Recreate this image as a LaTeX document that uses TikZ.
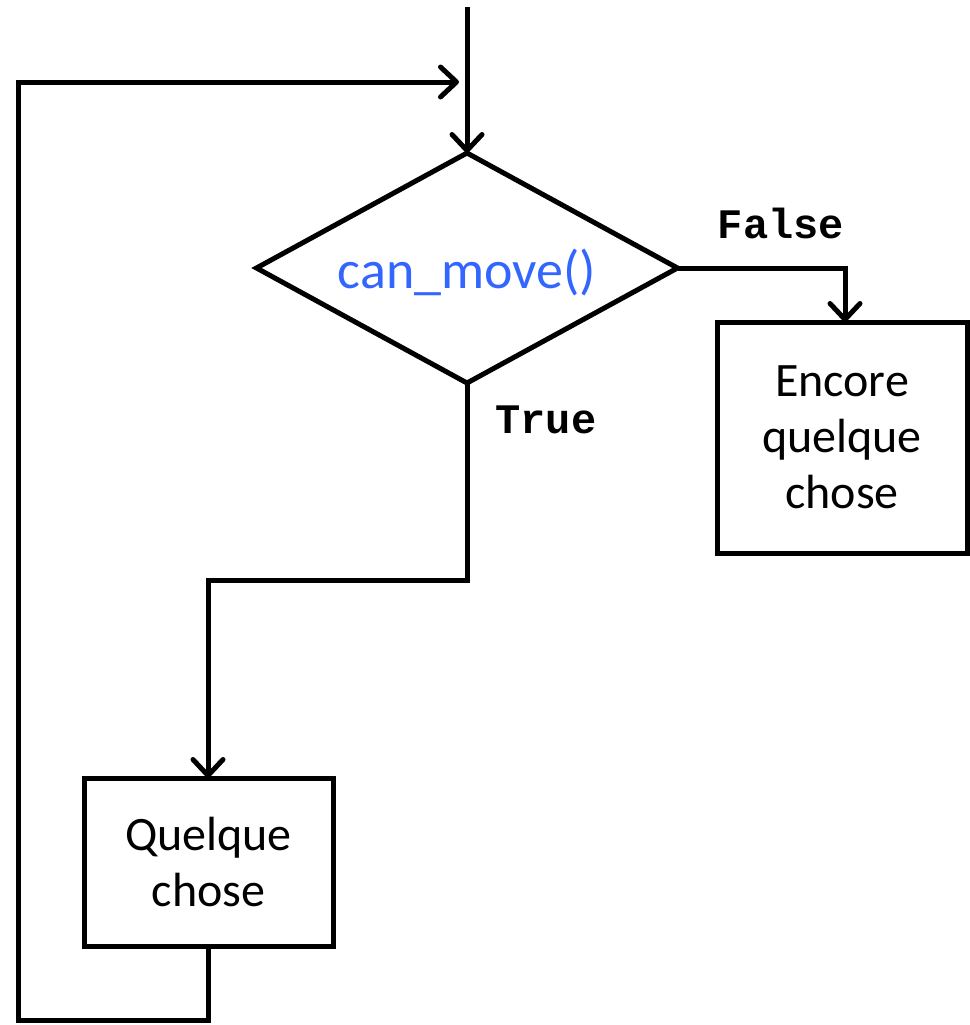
\documentclass[tikz,border=0pt]{standalone}
\usepackage{fontspec}
\setmainfont{Carlito}
\newfontfamily\codefont{Liberation Mono}
\usetikzlibrary{shapes.geometric,arrows.meta}
\definecolor{callblue}{RGB}{51,102,255}
\begin{document}
\begin{tikzpicture}[x=1pt,y=-1pt,
  flow/.style={line width=5pt},
  arrowed/.style={flow,-{Straight Barb[length=16pt,width=30pt,line width=5pt,round]}},
  stepbox/.style={draw,line width=5pt,inner sep=0pt,outer sep=0pt,
    align=center,font=\fontsize{48}{56}\selectfont},
  decision/.style={draw,diamond,line width=5pt,inner sep=0pt,outer sep=0pt,
    aspect=1.83,minimum width=421pt,minimum height=230pt},
  branch/.style={font=\codefont\bfseries\fontsize{42}{42}\selectfont}]
\useasboundingbox (0,0) rectangle (969,1025);

% entry point and loop return
\coordinate (entry) at (467,7);
\coordinate (join) at (467,82);

% decision
\node[decision] (test) at (467,268) {};
\node[text=callblue,font=\fontsize{54}{54}\selectfont] (cond) at (467,272) {can\_move()};

% boxes
\node[stepbox,minimum width=250pt,minimum height=231pt] (other) at (842,437.5)
  {Encore\\quelque\\chose};
\node[stepbox,minimum width=249pt,minimum height=168pt] (body) at (208.5,862)
  {Quelque\\chose};

% connectors
\draw[arrowed] (entry) -- (test.north);
\draw[arrowed] (test.east) -- (845,268) -- (845,322);
\draw[arrowed] (test.south) -- (467,580) -- (208,580) -- (208,778);
\draw[arrowed] (208,946) -- (208,1020) -- (18,1020) -- (18,82) -- ([xshift=-8pt]join);

% branch labels
\node[branch] (lfalse) at (781,223) {False};
\node[branch,anchor=west] (ltrue) at (492,420) {True};
\end{tikzpicture}
\end{document}
